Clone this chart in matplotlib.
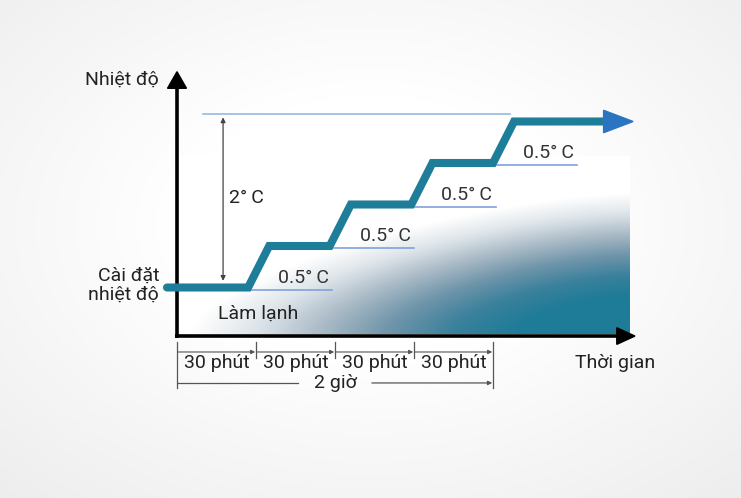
import numpy as np
import matplotlib
matplotlib.use("Agg")
import matplotlib.pyplot as plt
from matplotlib.colors import LinearSegmentedColormap

plt.rcParams['font.family'] = ['Roboto', 'DejaVu Sans']

# data: time in minutes, temperature offset from the set point in degC
ramp_start = [27, 58, 89, 120]
ramp_len = 8
levels = [0.0, 0.5, 1.0, 1.5, 2.0]
line_start = -3.8
line_end = 162
arrow_tip = 173.2
period_ticks = [0, 30, 60, 90, 120]
period_label = "30 phút"
total_label = "2 giờ"
step_label = "0.5°\u2009C"
total_rise = "2°\u2009C"

# pixel scale of the drawing (px per minute / px per degC)
PX_MIN = 79 / 30
PX_DEG = 83
FS = 14

fig = plt.figure(figsize=(7.41, 4.98), dpi=100)
ax = fig.add_axes([0, 0, 1, 1])
xlim = (-177 / PX_MIN, (741 - 177) / PX_MIN)
ylim = ((287.5 - 498) / PX_DEG, 287.5 / PX_DEG)
ax.set_xlim(xlim)
ax.set_ylim(ylim)
ax.axis('off')

# soft background vignette
gx, gy = np.meshgrid(np.linspace(0, 1, 200), np.linspace(0, 1, 140))
r = np.sqrt(((gx - 0.5) / 0.75) ** 2 + ((gy - 0.55) / 0.75) ** 2)
bg = 1 - 0.07 * np.clip((r - 0.35) / 0.65, 0, 1)
ax.imshow(np.dstack([bg, bg, bg]), extent=(*xlim, *ylim), aspect='auto',
          origin='lower', zorder=0, interpolation='bilinear')

# gradient area under the curve (dark towards the lower right)
fx = (0.8, 172.0)
fy = (-0.56, 1.58)
X, Y = np.meshgrid(np.linspace(*fx, 300), np.linspace(*fy, 200))
xp = 177 + X * PX_MIN
yp = 287.5 - Y * PX_DEG
dx = np.maximum(0.0028 * (630 - xp), 0)
dy = np.maximum(0.009 * (330 - yp), 0)
# slightly rounded contours (between a straight and an elliptic blend)
t = np.clip(1.33 - (dx ** 1.5 + dy ** 1.5) ** (1 / 1.5) * 1.08, 0, 1)
cmap = LinearSegmentedColormap.from_list(
    "fill", ["#ffffff", "#dde4e9", "#a9bac6", "#6f95aa", "#3a819c", "#1e7c98"])
ax.imshow(t, cmap=cmap, vmin=0, vmax=1, extent=(*fx, *fy), aspect='auto',
          origin='lower', zorder=1, interpolation='bilinear')

# axes with arrow heads
y_axis_bottom = -0.61
x_axis_y = -0.585
ax.plot([0, 0], [y_axis_bottom, 2.41], color='black', lw=2.6, zorder=3,
        solid_capstyle='butt')
ax.fill([-3.6, 0, 3.6], [2.40, 2.60, 2.40], color='black', zorder=3)
ax.plot([-0.7, 167.2], [x_axis_y, x_axis_y], color='black', lw=2.6, zorder=3,
        solid_capstyle='butt')
ax.fill([167, 173.9, 167], [x_axis_y + 0.1, x_axis_y, x_axis_y - 0.1],
        color='black', zorder=3)

# reference line and the 2 degC span
top_ref = levels[-1] + 0.09
ax.plot([9.9, 126.5], [top_ref, top_ref], color='#8db2de', lw=1.1, zorder=2)
ax.annotate("", xy=(17.5, top_ref - 0.04), xytext=(17.5, levels[0] + 0.08),
            arrowprops=dict(arrowstyle='<|-|>', color='#444444', lw=0.9,
                            mutation_scale=7, shrinkA=0, shrinkB=0), zorder=2)
ax.text(19.7, 1.08, total_rise, fontsize=FS, color='#222222', va='center',
        ha='left', zorder=4)

# step markers
for i, rs in enumerate(ramp_start):
    x0 = rs + 1.5
    x1 = rs + 32
    ax.plot([x0, x1], [levels[i] - 0.03, levels[i] - 0.03], color='#7fa2dc',
            lw=1.2, zorder=2)
    ax.text((x0 + x1) / 2 + 4.3, levels[i] + 0.115, step_label, fontsize=FS,
            color='#333333', ha='center', va='center', zorder=4)

# step curve
sx = [line_start]
sy = [levels[0]]
for i, rs in enumerate(ramp_start):
    sx += [rs, rs + ramp_len]
    sy += [levels[i], levels[i + 1]]
sx.append(line_end)
sy.append(levels[-1])
ax.plot(sx, sy, color='#1e7d98', lw=5.8, solid_joinstyle='miter',
        solid_capstyle='round', zorder=5)
ax.fill([line_end, arrow_tip, line_end],
        [levels[-1] + 0.135, levels[-1], levels[-1] - 0.135],
        color='#2b74c1', zorder=6)

# labels
ax.text(-6.8, 2.50, "Nhiệt độ", fontsize=FS, color='#222222', ha='right',
        va='center')
ax.text(-6.8, 0.03, "Cài đặt\nnhiệt độ", fontsize=FS, color='#222222',
        ha='right', va='center', linespacing=1.1)
ax.text(15.6, -0.31, "Làm lạnh", fontsize=FS, color='#222222', ha='left',
        va='center', zorder=4)
ax.text(151.1, -0.91, "Thời gian", fontsize=FS, color='#222222', ha='left',
        va='center')

# time dimension lines
dim_c = '#555555'
for i, tk in enumerate(period_ticks):
    if i in (0, len(period_ticks) - 1):
        ax.plot([tk, tk], [-0.657, -1.21], color=dim_c, lw=0.9)
    else:
        ax.plot([tk, tk], [-0.657, -0.85], color=dim_c, lw=0.9)
for a, b in zip(period_ticks[:-1], period_ticks[1:]):
    ax.annotate("", xy=(b - 0.3, -0.777), xytext=(a + 0.3, -0.777),
                arrowprops=dict(arrowstyle='-|>', color=dim_c, lw=0.8,
                                mutation_scale=6, shrinkA=0, shrinkB=0))
    ax.text((a + b) / 2, -0.91, period_label, fontsize=FS, color='#222222',
            ha='center', va='center')
mid = (period_ticks[0] + period_ticks[-1]) / 2
ax.plot([period_ticks[0] + 0.3, mid - 14], [-1.15, -1.15], color=dim_c, lw=0.9)
ax.annotate("", xy=(period_ticks[-1] - 0.3, -1.15), xytext=(mid + 14, -1.15),
            arrowprops=dict(arrowstyle='-|>', color=dim_c, lw=0.9,
                            mutation_scale=6, shrinkA=0, shrinkB=0))
ax.text(mid, -1.15, total_label, fontsize=FS, color='#222222', ha='center',
        va='center')

fig.savefig("out.png", dpi=100)
